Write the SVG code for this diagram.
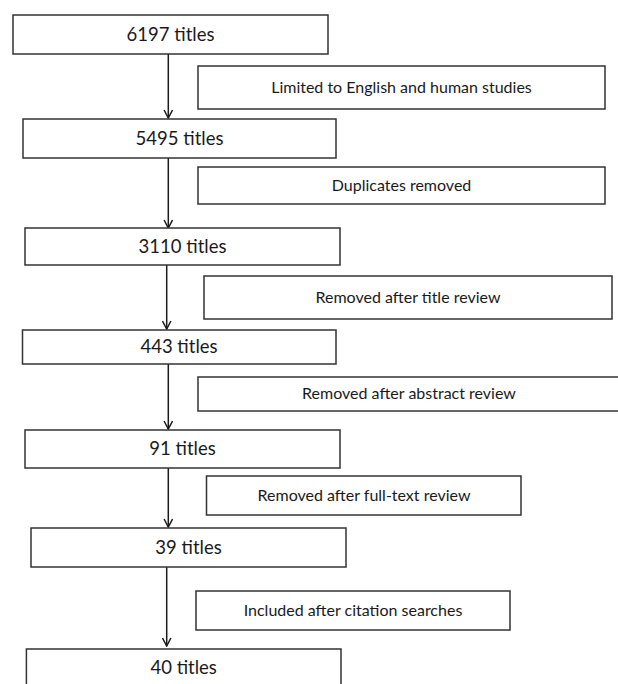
<svg xmlns="http://www.w3.org/2000/svg" width="618" height="684" viewBox="0 0 618 684">
<defs>
<marker id="arr" markerWidth="10" markerHeight="10" viewBox="0 0 10 10" refX="9" refY="5" orient="auto" markerUnits="userSpaceOnUse">
<path d="M1,0.8 L9,5 L1,9.2" fill="none" stroke="#1a1a1a" stroke-width="1.5"/>
</marker>
</defs>
<style>
.box{fill:#fff;stroke:#333;stroke-width:1.5}
.t{font-family:Lato,"Liberation Sans",sans-serif;fill:#1a1a1a;text-anchor:middle}
.m{font-size:18.5px}
.s{font-size:16px}
.c{fill:none;stroke:#1a1a1a;stroke-width:1.5}
</style>
<rect width="618" height="684" fill="#fff"/>
<g id="connectors">
<line class="c" x1="168.3" y1="54" x2="168.3" y2="118" marker-end="url(#arr)"/>
<line class="c" x1="168.3" y1="158" x2="168.3" y2="228" marker-end="url(#arr)"/>
<line class="c" x1="166.7" y1="265" x2="166.7" y2="329" marker-end="url(#arr)"/>
<line class="c" x1="168.3" y1="364" x2="168.3" y2="429" marker-end="url(#arr)"/>
<line class="c" x1="168.3" y1="468" x2="168.3" y2="527" marker-end="url(#arr)"/>
<line class="c" x1="166.7" y1="567" x2="166.7" y2="646" marker-end="url(#arr)"/>
</g>
<g id="n6197"><rect class="box" x="13" y="15" width="315" height="39"/><text class="t m" x="170.5" y="41">6197 titles</text></g>
<g id="limited"><rect class="box" x="198" y="66" width="407" height="43"/><text class="t s" x="401.5" y="93">Limited to English and human studies</text></g>
<g id="n5495"><rect class="box" x="23" y="119" width="313" height="39"/><text class="t m" x="179.5" y="145">5495 titles</text></g>
<g id="duplicates"><rect class="box" x="198" y="167" width="407" height="37"/><text class="t s" x="401.5" y="191">Duplicates removed</text></g>
<g id="n3110"><rect class="box" x="25" y="228" width="315" height="37"/><text class="t m" x="182.5" y="253">3110 titles</text></g>
<g id="title-review"><rect class="box" x="204" y="276" width="408" height="43"/><text class="t s" x="408" y="303">Removed after title review</text></g>
<g id="n443"><rect class="box" x="22.5" y="330" width="313.5" height="34"/><text class="t m" x="179" y="353">443 titles</text></g>
<g id="abstract-review"><rect class="box" x="198" y="377" width="427" height="34"/><text class="t s" x="409" y="399">Removed after abstract review</text></g>
<g id="n91"><rect class="box" x="25" y="430" width="315" height="38"/><text class="t m" x="182.5" y="455">91 titles</text></g>
<g id="fulltext-review"><rect class="box" x="206.5" y="476" width="314.5" height="39"/><text class="t s" x="364" y="501">Removed after full-text review</text></g>
<g id="n39"><rect class="box" x="31" y="528" width="315" height="39"/><text class="t m" x="188.5" y="554">39 titles</text></g>
<g id="citation"><rect class="box" x="196" y="591" width="314" height="39"/><text class="t s" x="353" y="616">Included after citation searches</text></g>
<g id="n40"><rect class="box" x="26.4" y="649" width="314.6" height="41"/><text class="t m" x="183.7" y="674">40 titles</text></g>
</svg>
